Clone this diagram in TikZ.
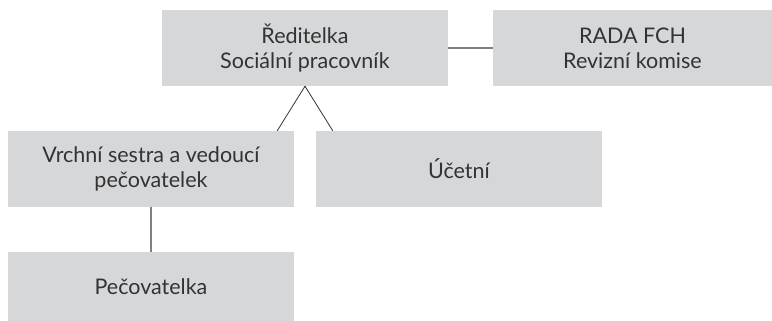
\documentclass[tikz,border=0pt]{standalone}
\usepackage{fontspec}
\setmainfont{Lato}
\definecolor{boxfill}{HTML}{D6D7D9}
\definecolor{txt}{HTML}{333333}
\definecolor{grayline}{HTML}{808080}
\begin{document}
\begin{tikzpicture}[x=1pt,y=-1pt,
  orgbox/.style={fill=boxfill,draw=none,inner sep=0pt,minimum width=286pt,minimum height=76pt,
    align=center,text=txt,font=\fontsize{21.5}{25}\selectfont},
  darkline/.style={draw=txt,line width=0.8pt},
  greyline/.style={draw=grayline,line width=1.2pt}]
\useasboundingbox (0,0) rectangle (772,321);
\node[orgbox] (top) at (305,48) {Ředitelka\\Sociální pracovník};
\node[orgbox,minimum width=279pt] (rada) at (632.5,48) {RADA FCH\\Revizní komise};
\node[orgbox] (vrch) at (151,169) {Vrchní sestra a vedoucí\\pečovatelek};
\node[orgbox] (ucet) at (459,169) {Účetní};
\node[orgbox,minimum height=69pt] (pec) at (151,286.5) {Pečovatelka};
\draw[greyline] (top.east) -- (rada.west);
\draw[darkline] (top.south) -- ([xshift=-17pt]vrch.north east);
\draw[darkline] (top.south) -- ([xshift=17pt]ucet.north west);
\draw[greyline] (vrch.south) -- (pec.north);
\end{tikzpicture}
\end{document}
